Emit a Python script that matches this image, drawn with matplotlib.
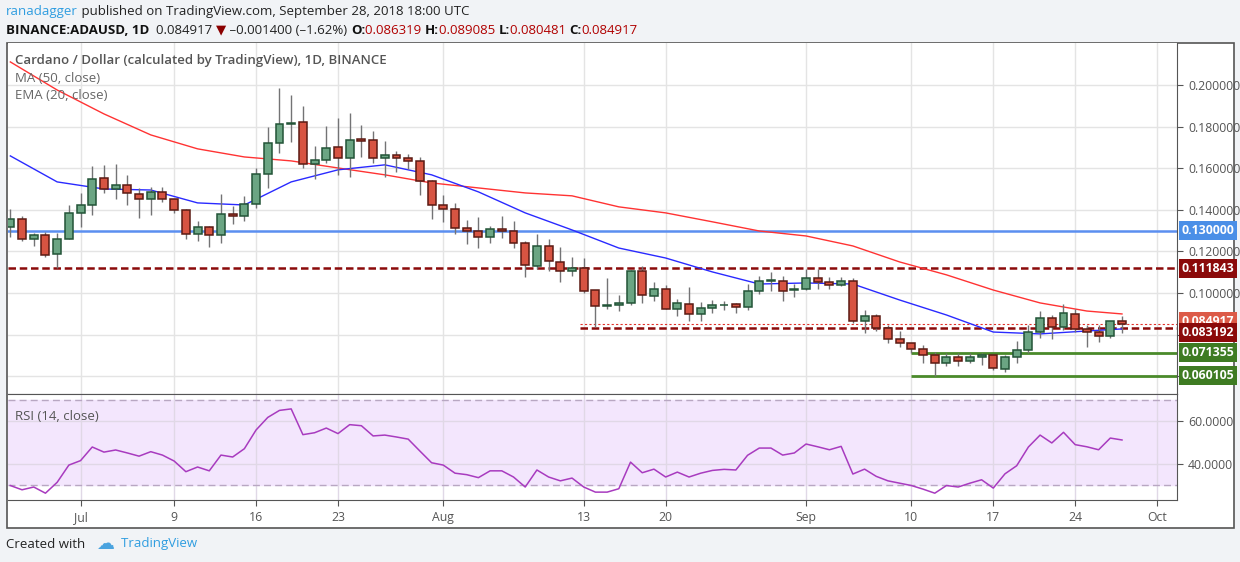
import numpy as np
import matplotlib
matplotlib.use("Agg")
import matplotlib.pyplot as plt
from matplotlib.patches import Rectangle

plt.rcParams['font.family'] = ['Open Sans', 'DejaVu Sans']

W, H = 1240, 562

# daily candles, day 0 = Jun 25 2018 ... day 95 = Sep 28 2018
opens = [.1317, .1356, .1260, .1279, .1188, .1260, .1385, .1423, .1553, .1500,
         .1519, .1476, .1452, .1486, .1452, .1399, .1284, .1317, .1279, .1380,
         .1370, .1428, .1572, .1722, .1813, .1823, .1620, .1640, .1702, .1649,
         .1741, .1736, .1649, .1664, .1649, .1635, .1539, .1423, .1404, .1313,
         .1298, .1269, .1308, .1298, .1241, .1130, .1226, .1149, .1106, .1120,
         .1014, .0937, .0942, .0952, .1106, .0986, .1019, .0923, .0947, .0899,
         .0928, .0940, .0947, .0933, .1010, .1056, .1058, .1014, .1019, .1072,
         .1053, .1038, .1058, .0865, .0889, .0832, .0779, .0760, .0731, .0702,
         .0663, .0692, .0673, .0692, .0702, .0634, .0692, .0726, .0812, .0880,
         .0836, .0899, .0827, .0812, .0793, .0863]
highs = [.1404, .1370, .1289, .1293, .1289, .1423, .1481, .1611, .1616, .1620,
         .1568, .1505, .1510, .1510, .1452, .1404, .1346, .1322, .1476, .1418,
         .1467, .1601, .1798, .1986, .1952, .1899, .1707, .1803, .1842, .1866,
         .1808, .1779, .1731, .1683, .1669, .1654, .1544, .1471, .1433, .1351,
         .1366, .1322, .1370, .1346, .1250, .1284, .1260, .1221, .1173, .1168,
         .1014, .1072, .0990, .1111, .1130, .1053, .1038, .0971, .1029, .0957,
         .0966, .0962, .0952, .1043, .1082, .1101, .1082, .1043, .1115, .1115,
         .1077, .1077, .1072, .0918, .0899, .0846, .0817, .0760, .0750, .0716,
         .0711, .0711, .0711, .0711, .0707, .0702, .0769, .0846, .0913, .0894,
         .0947, .0923, .0846, .0846, .0865, .0891]
lows = [.1269, .1250, .1226, .1173, .1120, .1260, .1317, .1375, .1481, .1452,
        .1423, .1361, .1375, .1438, .1385, .1260, .1250, .1221, .1241, .1332,
        .1346, .1409, .1505, .1673, .1726, .1601, .1548, .1625, .1568, .1558,
        .1654, .1625, .1558, .1582, .1596, .1471, .1356, .1342, .1284, .1236,
        .1216, .1241, .1265, .1216, .1077, .1115, .1106, .1053, .1082, .1000,
        .0836, .0923, .0913, .0942, .0952, .0962, .0923, .0889, .0865, .0865,
        .0904, .0918, .0904, .0918, .0995, .1010, .0962, .0981, .1014, .1019,
        .1019, .1034, .0856, .0808, .0817, .0760, .0740, .0711, .0663, .0601,
        .0649, .0649, .0663, .0654, .0630, .0620, .0663, .0711, .0784, .0779,
        .0822, .0812, .0740, .0764, .0784, .0805]
closes = [.1356, .1260, .1279, .1183, .1260, .1385, .1423, .1548, .1500, .1519,
          .1481, .1452, .1486, .1452, .1399, .1284, .1317, .1279, .1380, .1370,
          .1428, .1572, .1722, .1813, .1818, .1620, .1640, .1697, .1649, .1736,
          .1731, .1649, .1664, .1649, .1635, .1539, .1423, .1404, .1313, .1298,
          .1269, .1308, .1298, .1241, .1135, .1226, .1154, .1106, .1120, .1010,
          .0937, .0942, .0952, .1106, .0990, .1019, .0923, .0952, .0899, .0928,
          .0942, .0942, .0933, .1010, .1058, .1058, .1010, .1019, .1072, .1053,
          .1038, .1058, .0865, .0889, .0832, .0779, .0760, .0731, .0702, .0663,
          .0692, .0673, .0692, .0702, .0639, .0692, .0726, .0812, .0880, .0836,
          .0904, .0827, .0812, .0793, .0865, .0849]

line_days = [0, 4, 8, 12, 16, 20, 24, 28, 32, 36, 40, 44, 48, 52, 56, 60, 64, 68,
             72, 76, 80, 84, 88, 92, 95]
ma50 = [.2111, .1976, .1861, .1760, .1693, .1654, .1635, .1601, .1568, .1529,
        .1505, .1481, .1467, .1414, .1385, .1342, .1298, .1274, .1226, .1149,
        .1087, .1014, .0952, .0913, .0899]
ema20 = [.1659, .1534, .1500, .1495, .1433, .1423, .1534, .1592, .1616, .1568,
         .1486, .1385, .1303, .1216, .1168, .1101, .1043, .1048, .1043, .0966,
         .0894, .0812, .0803, .0817, .0827]

rsi = [29.8, 27.8, 29.1, 26.2, 31.3, 39.4, 41.5, 47.9, 45.5, 46.5,
       45.1, 43.6, 45.7, 44.1, 41.3, 36.3, 38.5, 36.7, 44.1, 43.2,
       47.1, 55.9, 61.8, 65.1, 65.8, 53.7, 54.6, 56.8, 54.2, 58.4,
       57.9, 53.1, 53.5, 52.6, 51.6, 46.0, 40.5, 39.4, 35.6, 34.9,
       33.5, 36.7, 36.7, 33.8, 29.1, 37.1, 33.8, 32.0, 33.3, 29.1,
       26.7, 26.7, 28.3, 40.8, 35.8, 37.5, 33.8, 36.1, 33.8, 35.6,
       36.9, 37.4, 37.1, 44.0, 47.4, 47.4, 44.1, 45.1, 49.3, 48.0,
       46.6, 48.2, 35.2, 37.5, 34.1, 32.0, 30.9, 29.8, 28.1, 26.2,
       29.8, 29.1, 30.9, 32.5, 28.6, 35.3, 39.1, 47.9, 53.5, 49.8,
       54.8, 49.0, 48.0, 46.6, 52.1, 51.2]

tick_days = [6, 14, 21, 28, 37, 49, 56, 68, 77, 84, 91, 98]
tick_labels = ['Jul', '9', '16', '23', 'Aug', '13', '20', 'Sep', '10', '17', '24', 'Oct']
price_ticks = [0.06, 0.08, 0.10, 0.12, 0.14, 0.16, 0.18, 0.20]

level_blue = 0.13
level_res = 0.111843
level_sup = 0.083192
last_price = 0.084917
green_hi = 0.071355
green_lo = 0.060105

days = np.arange(len(opens))
o, h, l, c = map(np.array, (opens, highs, lows, closes))

fig = plt.figure(figsize=(W / 100, H / 100), dpi=100, facecolor='#f1f3f6')

def fbox(x0, y0, x1, y1):
    return [x0 / W, 1 - y1 / H, (x1 - x0) / W, (y1 - y0) / H]

# white chart container
fig.patches.append(Rectangle((7 / W, 1 - 528 / H), 1227 / W, 485 / H,
                             transform=fig.transFigure, facecolor='white',
                             edgecolor='#555555', linewidth=1.2, zorder=-5))

ax = fig.add_axes(fbox(8, 43, 1177, 394))
ax2 = fig.add_axes(fbox(8, 394, 1177, 500), sharex=ax)
ax.set_zorder(2)
ax2.set_zorder(2)

GREEN_F, GREEN_E = '#6ba583', '#225437'
RED_F, RED_E = '#d75442', '#5b1a13'

up = c >= o
ax.vlines(days, l, h, color='#737375', linewidth=1, zorder=3)
bot = np.minimum(o, c)
hgt = np.maximum(np.abs(c - o), 0.0004)
ax.bar(days[up], hgt[up], bottom=bot[up], width=0.68, color=GREEN_F,
       edgecolor=GREEN_E, linewidth=1.1, zorder=4)
ax.bar(days[~up], hgt[~up], bottom=bot[~up], width=0.68, color=RED_F,
       edgecolor=RED_E, linewidth=1.1, zorder=4)

ax.plot(line_days, ma50, color='#ff3333', linewidth=1, zorder=2)
ax.plot(line_days, ema20, color='#2a2aff', linewidth=1, zorder=2)

ax.axhline(level_blue, color='#5b8ff0', linewidth=1.8, zorder=1)
ax.axhline(level_res, color='#8b0a0a', linewidth=1.8, linestyle=(0, (3, 1.5)), zorder=1)
ax.hlines(level_sup, 48.7, 99.7, color='#8b0a0a', linewidth=1.8,
          linestyle=(0, (3, 1.5)), zorder=1)
ax.hlines(last_price, 48.7, 99.7, color='#e0312a', linewidth=0.8,
          linestyle=(0, (2, 2)), zorder=1)
ax.hlines([green_hi, green_lo], 77, 99.7, color='#4a8a2a', linewidth=2, zorder=1)

ax.set_yticks(price_ticks)
# 0.06 and 0.08 labels sit under the level boxes in the reference
ax.set_yticklabels(['' if v < 0.09 else '%.6f' % v for v in price_ticks])
ax.set_xlim(-0.2, 99.7)
ax.set_ylim(0.0514, 0.2202)
ax.yaxis.tick_right()
ax.grid(True, color='#e4e4e4', linewidth=1)
ax.set_axisbelow(True)
ax.tick_params(axis='y', colors='#555555', labelcolor='#555555', labelsize=8.8,
               length=4, pad=4)
ax.tick_params(axis='x', length=0, labelbottom=False)
for s in ax.spines.values():
    s.set_color('#555555')
ax.spines['top'].set_visible(False)
ax.spines['left'].set_visible(False)

# price labels on the right axis (the two close ones are nudged apart)
boxes = [(level_blue, level_blue, '#4a8fe7'), (level_res, level_res, '#8b0a0a'),
         (last_price, 0.0862, '#dc5b48'), (level_sup, 0.0809, '#8b0a0a'),
         (green_hi, 0.0713, '#3e7b22'), (green_lo, 0.0601, '#3e7b22')]
for val, ypos, col in boxes:
    ax.text(1.004, ypos, '%.6f' % val, transform=ax.get_yaxis_transform(),
            ha='left', va='center', color='white', fontsize=8.8, fontweight='bold',
            zorder=10, clip_on=False,
            bbox=dict(boxstyle='square,pad=0.25', facecolor=col, edgecolor='none'))

ax.text(0.006, 0.94, 'Cardano / Dollar (calculated by TradingView), 1D, BINANCE',
        transform=ax.transAxes, fontsize=9.5, color='#555555', fontweight='semibold')
ax.text(0.006, 0.89, 'MA (50, close)', transform=ax.transAxes, fontsize=9.5, color='#666666')
ax.text(0.006, 0.84, 'EMA (20, close)', transform=ax.transAxes, fontsize=9.5, color='#666666')

# RSI pane
ax2.axhspan(30, 70, color='#f3e6fd', zorder=0)
ax2.axhline(70, color='#b8a7c2', linewidth=1, linestyle=(0, (5, 3)))
ax2.axhline(30, color='#b8a7c2', linewidth=1, linestyle=(0, (5, 3)))
ax2.plot(days, rsi, color='#a83bbf', linewidth=1.1, zorder=3)
ax2.set_yticks([40, 60])
ax2.set_yticklabels(['40.0000', '60.0000'])
ax2.set_ylim(23, 72.8)
ax2.yaxis.tick_right()
ax2.set_xticks(tick_days)
ax2.set_xticklabels(tick_labels)
ax2.grid(True, color='#e0d8e6', linewidth=1)
ax2.set_axisbelow(True)
ax2.tick_params(colors='#555555', labelsize=8.8, length=4, pad=4)
for s in ax2.spines.values():
    s.set_color('#555555')
ax2.spines['left'].set_visible(False)
ax2.text(0.006, 0.75, 'RSI (14, close)', transform=ax2.transAxes, fontsize=9.5, color='#555555')

# header, pieces chained left to right
renderer = fig.canvas.get_renderer()

def chain(x, y, pieces):
    for s, col, kw in pieces:
        opts = dict(va='center', ha='left', fontsize=9.5, color=col)
        opts.update(kw)
        t = fig.text(x / W, 1 - y / H, s, **opts)
        x = t.get_window_extent(renderer).x1

chain(6, 12, [('ranadagger', '#2f9de0', {}),
              (' published on TradingView.com, September 28, 2018 18:00 UTC', '#222222', {})])
chain(6, 30, [('BINANCE:ADAUSD, 1D  ', '#111111', {'fontweight': 'bold'}),
              ('0.084917 ', '#222222', {}),
              ('\u25bc', '#8b0000', {'family': 'DejaVu Sans'}),
              (' \u20130.001400 (\u20131.62%) ', '#222222', {}),
              ('O:', '#111111', {'fontweight': 'bold'}),
              ('0.086319 ', '#b00000', {}),
              ('H:', '#111111', {'fontweight': 'bold'}),
              ('0.089085 ', '#b00000', {}),
              ('L:', '#111111', {'fontweight': 'bold'}),
              ('0.080481 ', '#b00000', {}),
              ('C:', '#111111', {'fontweight': 'bold'}),
              ('0.084917', '#b00000', {})])
chain(6, 544, [('Created with   ', '#222222', {}),
               ('\u2601', '#4aa3df', {'family': 'DejaVu Sans', 'fontsize': 13}),
               ('  TradingView', '#2f9de0', {})])

fig.savefig('out.png', dpi=100, facecolor=fig.get_facecolor())
